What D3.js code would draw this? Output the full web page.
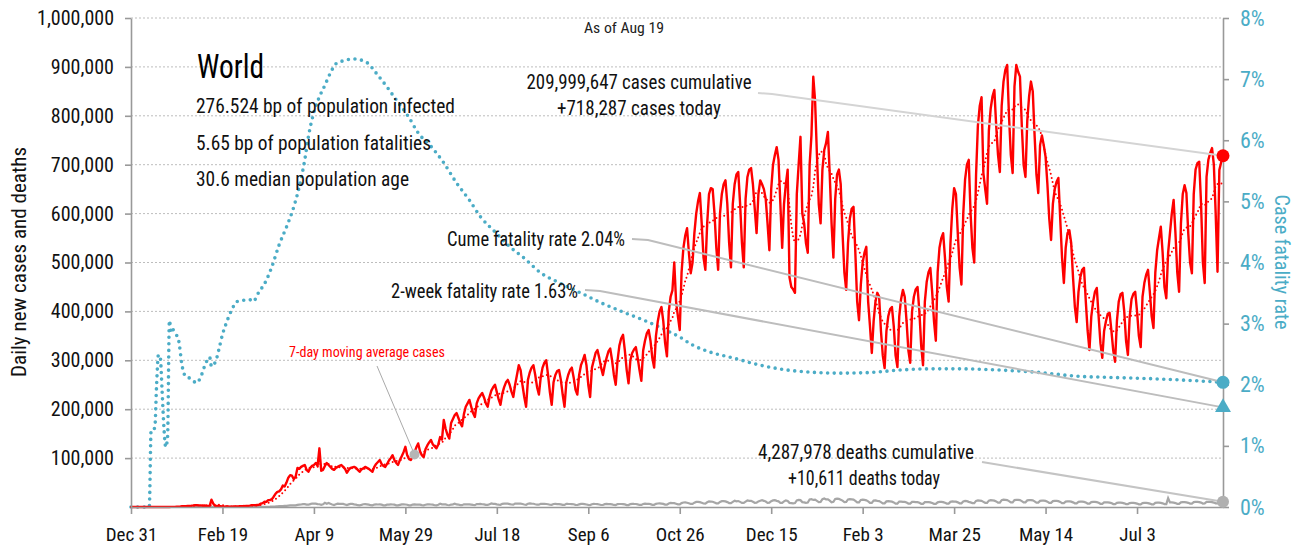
<!DOCTYPE html>
<html>
<head>
<meta charset="utf-8">
<script src="https://cdn.jsdelivr.net/npm/d3@7"></script>
<style>
body{margin:0;background:#fff;}
svg text{font-family:"Liberation Sans Narrow","Roboto Condensed","DejaVu Sans Condensed",Roboto,sans-serif;}
</style>
</head>
<body>
<svg id="chart" width="1296" height="547"></svg>
<script>
/* dados: semanas de terca a segunda, casos em milhares */
var startDay = "2019-12-31";
var casesWeeks = [
 [0,0,0,0,0,0,0],[0,0,0,0,0,0,0],[0,0,0,0,0,0,0],
 [0.1,0.3,0.2,0.3,0.7,0.7,1.0],[1.5,1.4,1.7,2.0,2.1,2.6,3.2],[3.9,3.7,3.2,3.4,2.7,3.0,2.5],
 [2.0,2.0,15.1,6.5,2.1,2.1,1.9],[1.8,0.5,0.6,1.0,0.9,0.6,0.7],[0.9,0.9,1.2,1.4,1.8,1.8,1.9],
 [2.4,2.3,2.8,3.9,3.9,3.7,4.1],[4.5,7,8,11,10.5,14,14],[16,21,27,31,32,36,44],
 [42,50,60,65,64,57,62],[80,78,82,84,86,76,72],[80,84,86,90,84,120,74],
 [76,84,90,86,82,78,76],[80,82,84,86,82,78,70],[76,80,81,82,80,76,72],
 [77,79,82,80,78,75,72],[82,88,92,96,88,84,82],[88,95,100,106,96,90,86],
 [96,104,112,123,106,98,96],[104,112,122,130,114,106,102],[118,126,132,137,128,124,120],
 [128,143,138,178,160,148,140],[172,180,188,192,182,172,165],[190,205,212,219,205,192,184],
 [212,222,228,233,224,212,205],[225,238,245,250,235,220,209],[232,245,255,260,250,236,225],
 [250,270,290,280,250,225,205],[260,275,285,290,270,245,230],[265,285,295,300,270,235,209],
 [255,270,278,280,260,230,205],[255,270,280,285,265,240,230],[270,290,300,311,290,250,225],
 [285,300,315,321,305,285,270],[290,305,318,324,300,270,250],[300,330,345,352,320,280,253],
 [300,315,322,327,305,280,258],[320,340,355,362,340,305,285],[350,380,400,409,380,335,308],
 [400,430,443,500,420,390,362],[480,530,555,570,520,478,500],[560,600,625,642,580,510,485],
 [580,640,652,650,600,530,485],[600,640,660,668,620,540,490],[620,660,680,685,620,540,490],
 [630,675,690,693,660,610,560],[640,668,660,650,630,580,525],[650,700,720,736,710,620,530],
 [620,660,690,470,450,445,438],[640,700,757,600,580,540,520],[700,760,880,830,720,620,580],
 [690,730,744,767,680,580,510],[630,680,690,660,560,480,444],[540,590,610,614,520,420,382],
 [455,500,520,532,420,370,315],[380,420,438,430,360,310,284],[360,390,405,409,370,310,286],
 [390,425,444,430,380,320,295],[400,430,445,450,400,330,290],[420,460,480,489,440,380,340],
 [480,530,550,560,510,450,420],[540,610,652,640,560,490,455],[600,670,700,710,600,530,500],
 [680,780,820,838,683,650,620],[770,815,840,853,780,720,685],[820,870,894,904,800,720,683],
 [860,904,890,880,780,700,675],[790,840,870,850,760,680,642],[740,760,740,716,660,590,546],
 [620,650,665,673,590,510,458],[530,560,566,540,470,410,378],[440,470,485,489,420,360,321],
 [390,420,440,448,390,335,305],[360,380,395,397,360,320,297],[380,420,435,438,400,340,311],
 [390,425,436,440,400,350,327],[430,458,475,485,440,390,366],[480,525,550,573,520,450,427],
 [520,560,600,628,560,480,440],[580,640,658,642,560,500,478],[640,690,703,706,620,500,458],
 [675,710,724,734,700,600,481],[689,705,718.287]
];
/* obitos em milhares, mesmas semanas */
var deathsWeeks = [
 [0,0,0,0,0,0,0],[0,0,0,0,0,0,0],[0,0,0,0,0,0,0],[0,0,0,0,0,0,0],
 [0,0,0,0,0.1,0.1,0.1],[0.1,0.1,0.1,0.1,0.1,0.1,0.1],[0.1,0.1,0.3,0.1,0.1,0.1,0.1],
 [0.1,0.1,0.1,0.1,0.1,0.1,0.1],[0.1,0.1,0.1,0.1,0.1,0.1,0.1],[0.1,0.1,0.1,0.1,0.1,0.2,0.2],
 [0.3,0.3,0.4,0.4,0.4,0.5,0.6],[0.8,1.0,1.1,1.3,1.6,1.7,1.8],[2.3,2.4,2.8,3.2,3.6,3.2,3.4],
 [4.4,4.9,5.1,6.0,5.8,4.8,4.7],[5.9,7.1,6.9,6.9,5.9,5.6,4.6],[5.5,8.5,6.8,8.4,6.6,5.2,4.1],
 [5.5,6.8,6.5,6.2,6.3,5.2,3.8],[5.3,6.2,6.3,5.3,4.8,3.7,3.5],[4.4,5.6,5.8,5.5,4.8,3.7,3.5],
 [5.0,5.3,5.1,5.2,4.9,3.5,3.3],[4.7,5.0,5.4,5.1,4.8,3.5,3.3],[4.3,5.3,5.3,5.1,4.6,3.4,3.3],
 [4.9,5.4,5.0,5.1,4.8,3.8,3.5],[4.6,5.5,5.3,5.1,4.8,3.6,3.5],[4.7,6.6,5.3,5.2,5.3,4.0,3.6],
 [5.0,5.4,6.9,5.3,5.0,4.0,3.7],[5.4,5.5,5.6,5.5,5.0,4.2,3.8],[5.9,5.8,6.2,5.6,5.4,4.3,4.2],
 [5.8,7.2,6.5,6.3,5.5,4.8,4.5],[6.5,6.9,7.0,6.9,6.0,5.1,4.8],[6.9,7.0,6.8,6.9,6.1,5.1,4.5],
 [6.7,7.2,6.8,6.6,5.7,5.0,4.7],[6.4,6.5,6.6,6.2,5.6,4.6,4.4],[6.1,6.4,6.0,5.9,5.4,4.3,4.2],
 [6.4,6.2,6.1,5.9,5.6,4.3,4.1],[5.3,6.2,6.3,5.8,5.2,4.3,4.0],[5.6,6.3,6.1,5.8,5.2,4.1,4.1],
 [5.8,6.3,6.0,5.7,5.3,4.2,4.0],[5.9,6.1,6.1,5.8,5.3,4.0,3.9],[5.9,6.4,6.2,6.1,5.4,4.2,4.2],
 [6.2,6.7,6.5,6.6,5.8,4.5,4.5],[6.5,7.1,7.5,7.0,6.3,4.9,4.8],[7.2,8.3,8.0,7.9,6.8,5.5,5.5],
 [8.0,9.2,9.3,8.7,7.6,6.2,6.2],[8.9,10.5,10.5,9.9,8.5,7.1,7.0],[9.7,11.4,11.1,10.8,9.2,7.6,7.5],
 [10.5,12.0,12.0,11.5,10.0,8.0,8.0],[10.5,12.8,11.5,12.2,10.5,8.4,8.5],[11.0,13.3,12.7,12.5,10.6,8.6,8.7],
 [11.5,12.8,13.8,12.6,11.2,8.6,9.0],[12.0,13.5,14.0,12.5,11.5,8.5,8.5],[11.5,13.5,12.5,8.5,8.0,7.5,8.0],
 [13.5,14.5,14.0,10.0,9.5,8.5,9.0],[15.5,16.0,14.5,15.0,12.5,10.0,10.5],[16.0,17.5,15.5,15.5,13.0,9.5,10.5],
 [16.5,17.0,16.5,15.0,13.0,10.0,10.5],[15.5,16.0,15.5,15.0,12.5,9.5,9.5],[14.5,15.0,14.5,13.5,11.5,8.5,8.5],
 [13.0,13.5,12.5,12.0,10.0,7.5,7.5],[11.5,12.0,11.5,11.0,9.5,7.0,7.0],[11.0,11.0,10.5,10.5,9.0,7.0,7.0],
 [10.5,10.5,10.0,10.0,8.5,6.5,6.5],[10.0,10.0,10.0,9.5,8.0,6.5,6.5],[9.5,10.5,10.5,10.0,8.5,7.0,7.0],
 [10.5,11.5,11.0,11.0,9.5,7.5,7.5],[11.5,12.5,12.0,10.5,9.5,8.0,8.0],[12.5,13.5,13.0,12.5,10.5,8.5,8.5],
 [13.0,14.0,13.5,13.0,11.5,9.0,9.0],[14.0,15.0,14.5,14.0,12.0,9.5,9.5],[14.0,14.5,14.5,14.0,12.0,9.5,9.5],
 [13.5,14.0,14.0,13.5,11.5,9.0,9.0],[12.5,13.0,13.0,12.5,11.0,8.5,8.5],[12.0,12.5,12.5,12.0,10.5,8.0,8.0],
 [11.0,11.5,11.5,11.0,9.5,7.5,7.5],[10.5,11.0,11.0,10.5,9.0,7.0,7.0],[10.0,10.5,10.5,10.0,8.5,6.5,6.5],
 [9.5,9.5,9.5,9.0,8.0,6.0,6.0],[8.5,9.0,9.0,8.5,7.5,6.0,6.0],[8.0,8.5,8.5,8.0,7.0,5.5,5.5],
 [8.0,8.5,8.5,8.0,7.0,5.5,5.5],[8.5,9.0,9.0,8.5,7.5,6.0,6.0],[18.0,9.5,9.5,9.0,8.0,6.5,6.5],
 [9.5,10.0,10.0,9.5,8.5,7.0,7.0],[10.0,10.5,10.5,10.0,9.0,7.0,7.5],[10.5,10.5,10.5,10.0,9.0,7.5,7.5],
 [10.5,11.0,10.611]
];
/* taxa de letalidade acumulada (%) */
var cfrDates = ["2019-12-31","2020-01-10","2020-01-11","2020-01-13","2020-01-14","2020-01-15","2020-01-16","2020-01-17",
 "2020-01-18","2020-01-19","2020-01-20","2020-01-21","2020-01-22","2020-01-23","2020-01-24","2020-01-26","2020-01-28",
 "2020-01-30","2020-02-01","2020-02-05","2020-02-07","2020-02-10","2020-02-12","2020-02-13","2020-02-16","2020-02-17",
 "2020-02-19","2020-02-21","2020-02-24","2020-02-27","2020-03-05","2020-03-07","2020-03-09","2020-03-14","2020-03-17",
 "2020-03-21","2020-03-25","2020-03-29","2020-04-01","2020-04-04","2020-04-06","2020-04-09","2020-04-12","2020-04-15",
 "2020-04-18","2020-04-21","2020-04-25","2020-05-01","2020-05-08","2020-05-13","2020-05-19","2020-05-24","2020-05-31",
 "2020-06-05","2020-06-12","2020-06-19","2020-06-26","2020-07-03","2020-07-09","2020-07-17","2020-07-25","2020-08-02",
 "2020-08-11","2020-08-21","2020-09-02","2020-09-13","2020-09-25","2020-10-06","2020-10-18","2020-10-26","2020-11-02",
 "2020-11-11","2020-11-24","2020-12-09","2020-12-24","2021-01-09","2021-01-22","2021-02-07","2021-02-23","2021-03-12",
 "2021-03-28","2021-04-19","2021-05-11","2021-05-31","2021-06-18","2021-07-10","2021-08-01","2021-08-19"];
var cfrValues = [0,0,1.26,1.29,2.0,2.49,2.45,1.9,
 1.3,0.98,1.15,3.05,2.85,2.9,2.85,2.73,2.3,
 2.13,2.11,2.03,2.12,2.36,2.45,2.3,2.45,2.57,
 2.82,3.0,3.22,3.36,3.39,3.36,3.47,3.71,3.93,
 4.29,4.58,4.91,5.24,5.68,6.06,6.46,6.71,6.9,
 7.1,7.25,7.3,7.33,7.27,7.1,6.87,6.66,6.37,
 6.12,5.9,5.63,5.3,5.02,4.75,4.5,4.26,4.07,
 3.83,3.67,3.5,3.34,3.19,3.06,2.9,2.78,2.65,
 2.54,2.44,2.32,2.24,2.2,2.19,2.2,2.24,2.26,
 2.26,2.24,2.2,2.14,2.12,2.1,2.07,2.04];
var twoWeekRate = 1.63;
var yTicks = [100000,200000,300000,400000,500000,600000,700000,800000,900000,1000000];
var y2Ticks = [0,1,2,3,4,5,6,7,8];
var xTickDates = ["2019-12-31","2020-02-19","2020-04-09","2020-05-29","2020-07-18","2020-09-06",
 "2020-10-26","2020-12-15","2021-02-03","2021-03-25","2021-05-14","2021-07-03"];

var teal = "#4bacc6";
var parse = d3.timeParse("%Y-%m-%d");
var start = parse(startDay);

function buildDaily(){
    var c = casesWeeks.flat();
    var d = deathsWeeks.flat();
    return c.map(function(v,i){
        return {date: d3.timeDay.offset(start,i), cases: v*1000, deaths: d[i]*1000};
    });
}

/* media movel de 7 dias dos casos */
function movingAvg(data){
    return data.map(function(d,i){
        var win = data.slice(Math.max(0,i-6), i+1);
        return {date: d.date, value: d3.mean(win, function(w){return w.cases;})};
    });
}

/* texto com largura fixa (fonte condensada do original) */
function label(sel, t, x, y, size, width, anchor, color){
    return sel.append("text").attr("x",x).attr("y",y).attr("font-size",size)
        .attr("text-anchor",anchor||"start").attr("fill",color||"#111")
        .attr("textLength",width).attr("lengthAdjust","spacingAndGlyphs").text(t);
}

function draw(){
    var daily = buildDaily();
    var avg = movingAvg(daily);
    var cfr = cfrDates.map(function(s,i){return {date: parse(s), value: cfrValues[i]};});
    var last = daily[daily.length-1];

    var svg = d3.select("#chart");
    var x = d3.scaleTime().domain([start, last.date]).range([131,1223]);
    var y = d3.scaleLinear().domain([0,1000000]).range([507,18]);
    var y2 = d3.scaleLinear().domain([0,8]).range([507,18]);

    // linhas de grade
    svg.append("g").selectAll("line").data(yTicks).enter().append("line")
        .attr("x1",131).attr("x2",1223)
        .attr("y1",function(d){return y(d);}).attr("y2",function(d){return y(d);})
        .attr("stroke","#bdbdbd").attr("stroke-width",1).attr("stroke-dasharray","2,2");

    // taxa de letalidade (pontilhada)
    svg.append("path").datum(cfr)
        .attr("fill","none").attr("stroke",teal).attr("stroke-width",3.6)
        .attr("stroke-linecap","round").attr("stroke-dasharray","0,6.6")
        .attr("d", d3.line().curve(d3.curveMonotoneX)
            .x(function(d){return x(d.date);}).y(function(d){return y2(d.value);}));

    // obitos diarios
    svg.append("path").datum(daily)
        .attr("fill","none").attr("stroke","#a6a6a6").attr("stroke-width",2.2)
        .attr("d", d3.line().x(function(d){return x(d.date);}).y(function(d){return y(d.deaths);}));

    // casos diarios
    svg.append("path").datum(daily)
        .attr("fill","none").attr("stroke","#ff0000").attr("stroke-width",2.4)
        .attr("stroke-linejoin","round")
        .attr("d", d3.line().x(function(d){return x(d.date);}).y(function(d){return y(d.cases);}));

    // media movel
    svg.append("path").datum(avg)
        .attr("fill","none").attr("stroke","#ff0000").attr("stroke-width",2)
        .attr("stroke-linecap","round").attr("stroke-dasharray","0,4.2")
        .attr("d", d3.line().x(function(d){return x(d.date);}).y(function(d){return y(d.value);}));

    // eixos
    var gx = svg.append("g").attr("transform","translate(0,507)")
        .call(d3.axisBottom(x).tickValues(xTickDates.map(parse))
            .tickFormat(d3.timeFormat("%b %-d")).tickSize(7).tickSizeOuter(0).tickPadding(14));
    gx.selectAll("text").attr("font-size",19).attr("fill","#111");

    var gy = svg.append("g").attr("transform","translate(131,0)")
        .call(d3.axisLeft(y).tickValues(yTicks).tickFormat(d3.format(","))
            .tickSize(6).tickSizeOuter(0).tickPadding(11));
    gy.selectAll("text").attr("font-size",20).attr("fill","#111");

    var gy2 = svg.append("g").attr("transform","translate(1223,0)")
        .call(d3.axisRight(y2).tickValues(y2Ticks).tickFormat(function(d){return d+"%";})
            .tickSize(6).tickSizeOuter(0).tickPadding(11));
    gy2.selectAll("text").attr("font-size",22).attr("fill",teal);

    svg.selectAll(".domain, .tick line").attr("stroke","#999").attr("stroke-width",1.6);

    label(svg,"Daily new cases and deaths",0,0,20,230,"middle").attr("x",null).attr("y",null)
        .attr("transform","translate(26,262) rotate(-90)");
    label(svg,"Case fatality rate",0,0,20,135,"middle",teal).attr("x",null).attr("y",null)
        .attr("transform","translate(1275,262) rotate(90)");

    // textos
    label(svg,"As of Aug 19",624,33,15,80,"middle","#222");
    label(svg,"World",197,78,33,67,"start","#000");
    var stats = [["276.524 bp of population infected",259],["5.65 bp of population fatalities",235],
        ["30.6 median population age",213]];
    stats.forEach(function(s,i){ label(svg,s[0],196,113+i*36.5,21,s[1]); });

    var lastX = x(last.date);
    var lastCfr = cfr[cfr.length-1].value;

    // linhas de chamada
    var leaders = [
        {pts:[[758,93],[772,94],[lastX,y(last.cases)]], color:"#d4d4d4"},
        {pts:[[632,239],[648,240],[lastX,y2(lastCfr)]], color:"#bdbdbd"},
        {pts:[[585,290],[600,291],[lastX,y2(twoWeekRate)]], color:"#bdbdbd"},
        {pts:[[982,462],[lastX,y(last.deaths)]], color:"#c4c4c4"}
    ];
    svg.append("g").selectAll("path").data(leaders).enter().append("path")
        .attr("fill","none").attr("stroke",function(d){return d.color;}).attr("stroke-width",2)
        .attr("d",function(d){return d3.line()(d.pts);});

    var ann = [
        ["209,999,647 cases cumulative",639,89,225,"middle"],
        ["+718,287 cases today",639,115,164,"middle"],
        ["Cume fatality rate 2.04%",625,246,178,"end"],
        ["2-week fatality rate 1.63%",578,298,187,"end"],
        ["4,287,978 deaths cumulative",866,459,216,"middle"],
        ["+10,611 deaths today",864,485,152,"middle"]
    ];
    ann.forEach(function(a){ label(svg,a[0],a[1],a[2],20,a[3],a[4]); });

    // rotulo da media movel
    var ref = avg[155];
    svg.append("line").attr("x1",377).attr("y1",366).attr("x2",x(ref.date)).attr("y2",y(ref.value))
        .attr("stroke","#aaa").attr("stroke-width",1);
    svg.append("circle").attr("cx",x(ref.date)).attr("cy",y(ref.value)).attr("r",5).attr("fill","#b5b5b5");
    label(svg,"7-day moving average cases",367,357,15,156,"middle","#ff0000");

    // marcadores finais
    svg.append("circle").attr("cx",lastX).attr("cy",y(last.cases)).attr("r",6.5).attr("fill","#ff0000");
    svg.append("circle").attr("cx",lastX).attr("cy",y2(lastCfr)).attr("r",6.5).attr("fill",teal);
    svg.append("path").attr("transform","translate("+lastX+","+y2(twoWeekRate)+")")
        .attr("d",d3.symbol().type(d3.symbolTriangle).size(110)).attr("fill",teal);
    svg.append("circle").attr("cx",lastX).attr("cy",y(last.deaths)).attr("r",6).attr("fill","#b0b0b0");
}

draw();
</script>
</body>
</html>
